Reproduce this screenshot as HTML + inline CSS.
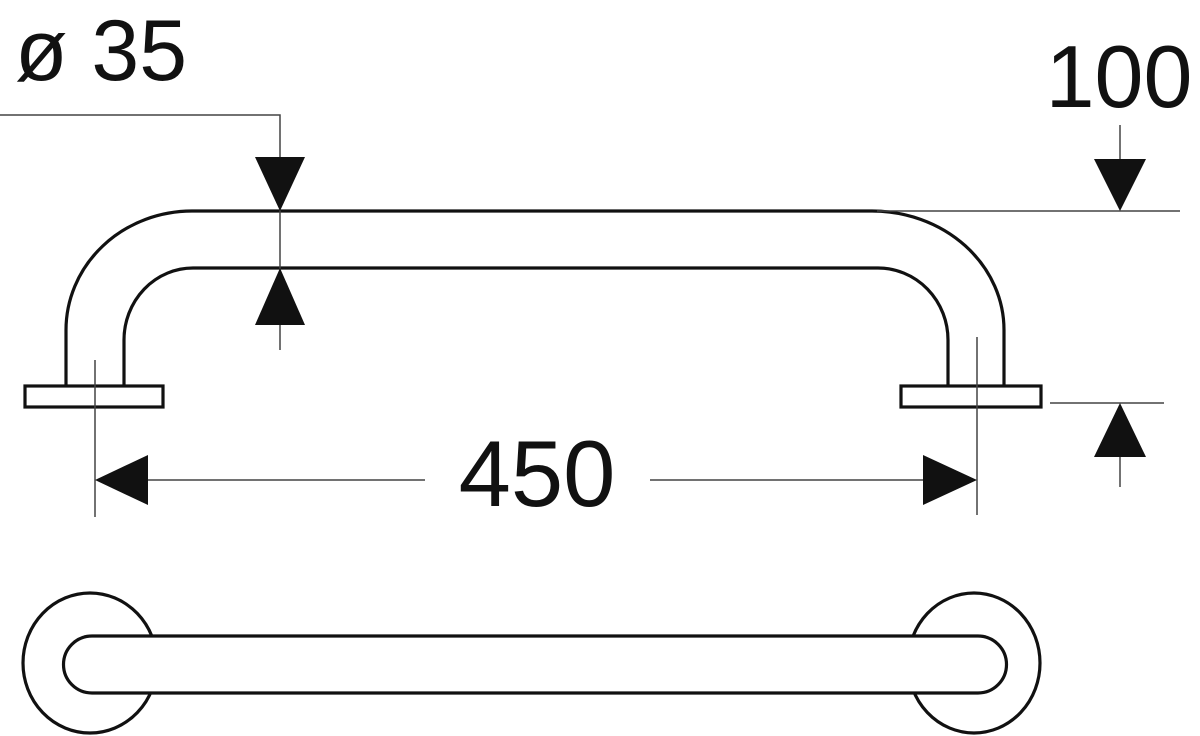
<!DOCTYPE html>
<html><head><meta charset="utf-8"><style>
html,body{margin:0;padding:0;background:#fff;}
svg{display:block;}
</style></head><body>
<svg width="1200" height="736" viewBox="0 0 1200 736" xmlns="http://www.w3.org/2000/svg">
<g fill="none" stroke="#111" stroke-width="3.2">
 <path d="M66 386 L66 330 A126 119 0 0 1 192 211 L872 211 A132 119 0 0 1 1004 330 L1004 386"/>
 <path d="M124 386 L124 340 A69 72 0 0 1 193 268 L878 268 A70 72 0 0 1 948 340 L948 386"/>
 <rect x="25" y="386" width="138" height="21" fill="#fff"/>
 <rect x="901" y="386" width="140" height="21" fill="#fff"/>
</g>
<g fill="none" stroke="#444" stroke-width="1.5">
 <line x1="95" y1="360" x2="95" y2="517"/>
 <line x1="977" y1="337" x2="977" y2="515"/>
 <line x1="148" y1="480" x2="425" y2="480"/>
 <line x1="650" y1="480" x2="923" y2="480"/>
 <polyline points="0,115 280,115 280,350"/>
 <line x1="877" y1="211" x2="1180" y2="211"/>
 <line x1="1120" y1="125" x2="1120" y2="160"/>
 <line x1="1050" y1="403" x2="1164" y2="403"/>
 <line x1="1120" y1="457" x2="1120" y2="487"/>
</g>
<g fill="#111">
 <polygon points="95,480 148,455 148,505"/>
 <polygon points="977,480 923,455 923,505"/>
 <polygon points="280,211 255,157 305,157"/>
 <polygon points="280,268 255,325 305,325"/>
 <polygon points="1120,211 1094,159 1146,159"/>
 <polygon points="1120,403 1094,457 1146,457"/>
</g>
<g font-family="Liberation Sans, sans-serif" fill="#111">
 <text x="537" y="506" font-size="94" text-anchor="middle">450</text>
 <text x="1119" y="107" font-size="88" text-anchor="middle">100</text>
 <text x="15" y="80" font-size="86">ø 35</text>
</g>
<g fill="#fff" stroke="#111" stroke-width="3.2">
 <ellipse cx="90" cy="663" rx="67" ry="70"/>
 <ellipse cx="974" cy="663" rx="66" ry="70"/>
 <path d="M92 636 L978 636 A28.5 28.5 0 0 1 978 693 L92 693 A28.5 28.5 0 0 1 92 636 Z"/>
</g>
</svg>
</body></html>
